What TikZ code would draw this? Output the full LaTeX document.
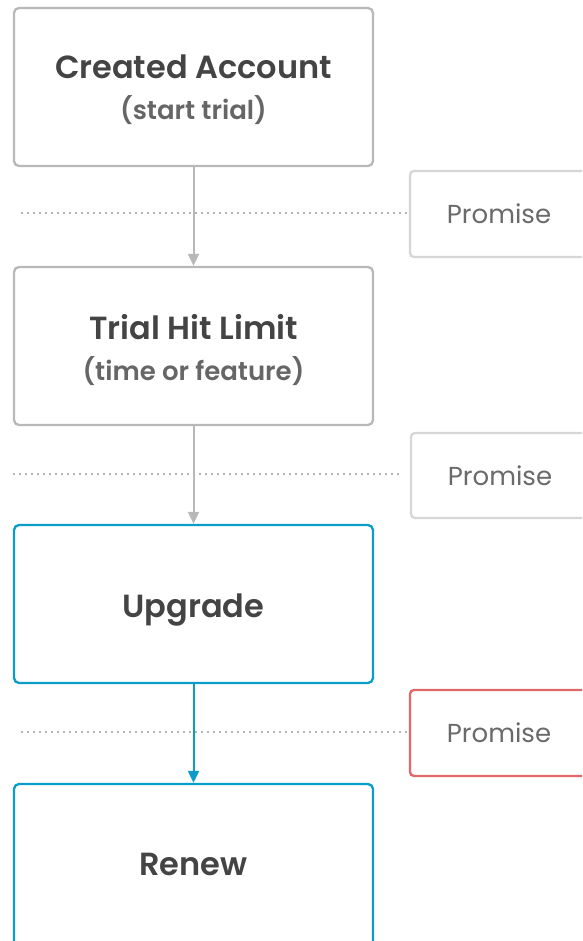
\documentclass[tikz,border=0pt]{standalone}
\usepackage{fontspec}
\setmainfont{Poppins}[BoldFont={Poppins SemiBold}]
\usetikzlibrary{arrows.meta}
\definecolor{boxgray}{HTML}{B8B8B8}
\definecolor{promgray}{HTML}{D6D6D6}
\definecolor{flowblue}{HTML}{0A9DCA}
\definecolor{promred}{HTML}{E06868}
\definecolor{titlecol}{HTML}{444444}
\definecolor{subcol}{HTML}{666666}
\definecolor{promtext}{HTML}{6A6A6A}
\definecolor{dotcol}{HTML}{666666}
\tikzset{
  stepbox/.style={draw, line width=2.3pt, rounded corners=5pt, minimum width=359pt, minimum height=158pt, inner sep=0pt},
  steptext/.style={align=center, text=titlecol, inner sep=0pt, font=\fontsize{32}{41}\selectfont\bfseries},
  promisebox/.style={draw=promgray, line width=2.3pt, rounded corners=4pt, minimum width=178pt, minimum height=86pt, text=promtext, font=\fontsize{26}{30}\selectfont, inner sep=0pt},
  dotline/.style={draw=dotcol, line width=1.8pt, dash pattern=on 0pt off 6pt, line cap=round},
  grayarrow/.style={draw=boxgray, line width=2pt, -{Triangle[width=11pt,length=12pt]}},
  bluearrow/.style={draw=flowblue, line width=2pt, -{Triangle[width=11pt,length=12pt]}}
}
\newcommand{\subtxt}[1]{{\fontsize{26}{30}\selectfont\bfseries\color{subcol}#1}}
\begin{document}
\begin{tikzpicture}[x=1pt,y=-1pt]
\clip (0,0) rectangle (582,941);
\fill[white] (0,0) rectangle (582,941);
% main steps
\node[stepbox, draw=boxgray] (a) at (193.5,87) {};
\node[stepbox, draw=boxgray] (b) at (193.5,346) {};
\node[stepbox, draw=flowblue] (c) at (193.5,604) {};
\node[stepbox, draw=flowblue, minimum height=170pt] (d) at (193.5,869) {};
\node[steptext] (at) at (193.5,90) {Created Account\\\subtxt{(start trial)}};
\node[steptext] (bt) at (193.5,350) {Trial Hit Limit\\\subtxt{(time or feature)}};
\node[steptext] (ct) at (193.5,610) {Upgrade};
\node[steptext] (dt) at (193.5,864) {Renew};
% promise boxes
\node[promisebox] (p1) at (499,214) {Promise};
\node[promisebox, minimum height=85pt] (p2) at (500,475.5) {Promise};
\node[promisebox, draw=promred] (p3) at (499,733) {Promise};
% dotted guide lines
\coordinate (d1) at (22,213);
\coordinate (d2) at (14,474);
\coordinate (d3) at (22,732);
\draw[dotline] (d1) -- (d1 -| p1.west);
\draw[dotline] (d2) -- ([xshift=-8pt]d2 -| p2.west);
\draw[dotline] (d3) -- (d3 -| p3.west);
% arrows
\draw[grayarrow] (a) -- (b);
\draw[grayarrow] (b) -- (c);
\draw[bluearrow] (c) -- (d);
\end{tikzpicture}
\end{document}
